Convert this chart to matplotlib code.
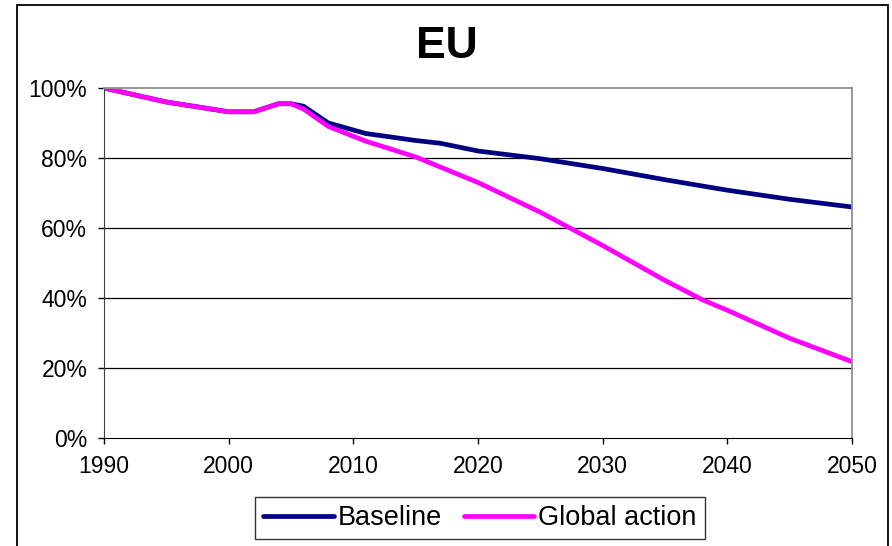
import matplotlib.pyplot as plt
import matplotlib.patches as patches
from matplotlib.ticker import FuncFormatter

plt.rcParams['font.family'] = ['Liberation Sans', 'DejaVu Sans']

# valores
anios_base = [1990, 1995, 2000, 2002, 2004, 2005, 2006, 2008, 2011, 2015, 2017, 2020, 2025, 2030, 2035, 2040, 2045, 2050]
baseline = [100, 96, 93.2, 93.2, 95.5, 95.5, 94.8, 90, 87, 85, 84.2, 82, 79.8, 77, 73.8, 70.8, 68.2, 66]
anios_glob = [1990, 1995, 2000, 2002, 2004, 2005, 2006, 2008, 2011, 2015, 2020, 2025, 2030, 2035, 2038, 2040, 2045, 2050]
global_action = [100, 96, 93.2, 93.2, 95.5, 95.5, 94, 89, 84.8, 80.3, 73, 64.5, 55, 45, 39.5, 36.5, 28.5, 21.8]
xticks = [1990, 2000, 2010, 2020, 2030, 2040, 2050]
yticks = [0, 20, 40, 60, 80, 100]

fig = plt.figure(figsize=(8.92, 5.46), dpi=100)
ax = fig.add_axes([104/892, 1-438/546, (852-104)/892, (438-88)/546])

ax.plot(anios_base, baseline, color='#000080', lw=3.4, label='Baseline', solid_capstyle='round', solid_joinstyle='round')
ax.plot(anios_glob, global_action, color='#FF00FF', lw=3.4, label='Global action', solid_capstyle='round', solid_joinstyle='round')

ax.set_xlim(1990, 2050)
ax.set_ylim(0, 100)
ax.set_xticks(xticks)
ax.set_yticks(yticks)
ax.yaxis.set_major_formatter(FuncFormatter(lambda v, p: '{:d}%'.format(int(v))))
for g in [20, 40, 60, 80]:
    ax.axhline(g, color='black', lw=0.9, zorder=0)
ax.tick_params(axis='both', direction='out', length=4, width=1, labelsize=16.5, pad=8)
ax.spines['top'].set_color('#909090')
ax.spines['right'].set_color('#909090')
ax.spines['top'].set_linewidth(1.3)
ax.spines['right'].set_linewidth(1.3)
ax.spines['left'].set_color('#404040')
ax.spines['bottom'].set_color('black')

fig.text(447/892, 1-46/546, 'EU', ha='center', va='center', fontsize=32, fontweight='bold')

ley = fig.legend(loc='center', bbox_to_anchor=(480/892, 1-518/546), ncol=2, fontsize=19.5,
                 frameon=True, fancybox=False, handlelength=2.6, handletextpad=0.15,
                 columnspacing=0.8, borderpad=0.3, borderaxespad=0)
ley.get_frame().set_edgecolor('black')
ley.get_frame().set_linewidth(1)

# borde exterior del grafico
borde = patches.Rectangle((17/892, -0.02), (888-17)/892, 1-5/546+0.02, transform=fig.transFigure,
                          fill=False, edgecolor='black', lw=1.3, clip_on=False)
fig.patches.append(borde)

plt.savefig('out.png', dpi=100)
plt.close()
